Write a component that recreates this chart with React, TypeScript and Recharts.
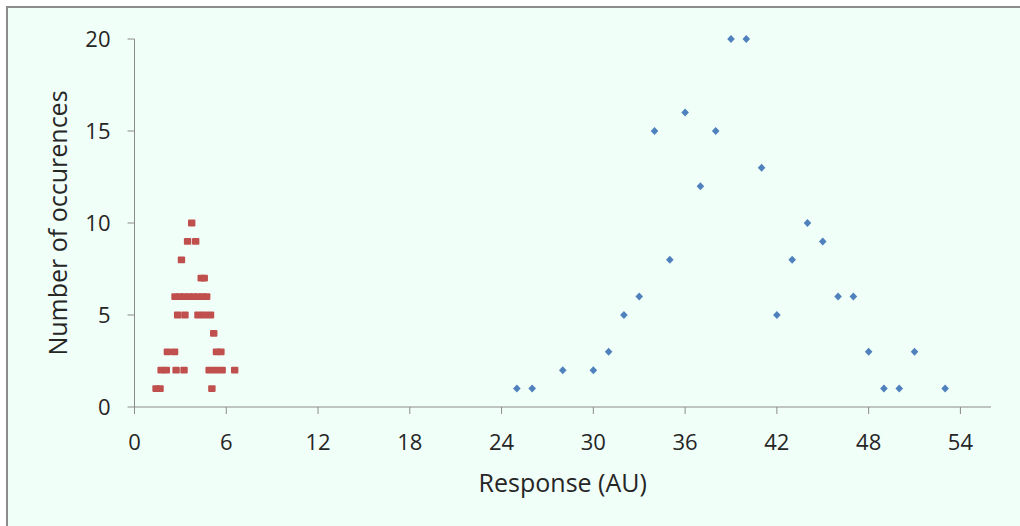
import React from 'react';
import { ScatterChart, Scatter, XAxis, YAxis } from 'recharts';

const xTicks = [0, 6, 12, 18, 24, 30, 36, 42, 48, 54];
const yTicks = [0, 5, 10, 15, 20];

const blueResponse = [25, 26, 28, 30, 31, 32, 33, 34, 35, 36, 37, 38, 39, 40, 41, 42, 43, 44, 45, 46, 47, 48, 49, 50, 51, 53];
const blueCount = [1, 1, 2, 2, 3, 5, 6, 15, 8, 16, 12, 15, 20, 20, 13, 5, 8, 10, 9, 6, 6, 3, 1, 1, 3, 1];

const redResponse = [
  3.74,
  3.47, 4.0,
  3.07,
  4.36, 4.56,
  2.65, 2.95, 3.25, 3.55, 3.85, 4.15, 4.45, 4.72,
  2.82, 3.3, 4.15, 4.55, 4.97,
  5.18,
  2.15, 2.62, 5.36, 5.65,
  1.74, 2.08, 2.72, 3.24, 4.88, 5.3, 5.73, 6.55,
  1.41, 1.67, 5.06,
];
const redCount = [
  10,
  9, 9,
  8,
  7, 7,
  6, 6, 6, 6, 6, 6, 6, 6,
  5, 5, 5, 5, 5,
  4,
  3, 3, 3, 3,
  2, 2, 2, 2, 2, 2, 2, 2,
  1, 1, 1,
];

const blueData = blueResponse.map((x, i) => ({ x, y: blueCount[i] }));
const redData = redResponse.map((x, i) => ({ x, y: redCount[i] }));

const AXIS = '#8a8a8a';
const TEXT = '#262626';
const FONT = '"Open Sans", sans-serif';

const Diamond = (props: any) => {
  const { cx, cy } = props;
  if (cx == null || cy == null) return null;
  return (
    <polygon
      points={`${cx},${cy - 4} ${cx + 3.8},${cy} ${cx},${cy + 4} ${cx - 3.8},${cy}`}
      fill="#4F81BD"
    />
  );
};

const Square = (props: any) => {
  const { cx, cy } = props;
  if (cx == null || cy == null) return null;
  return <rect x={cx - 3.7} y={cy - 3.4} width={7.4} height={6.8} rx={1} fill="#C0504D" />;
};

export default function App() {
  return (
    <div style={{ position: 'absolute', left: 0, top: 0, width: 1020, height: 526, background: '#ffffff', overflow: 'hidden' }}>
      <div
        style={{
          position: 'absolute',
          left: 6,
          top: 6,
          width: 1014,
          height: 520,
          background: '#F1FFF9',
          borderLeft: '2px solid #8c8c8c',
          borderTop: '2px solid #8c8c8c',
          boxSizing: 'border-box',
        }}
      />
      <div style={{ position: 'absolute', left: 0, top: 0 }}>
        <ScatterChart width={1020} height={526} margin={{ top: 39, right: 29, bottom: 29, left: 0 }}>
          <XAxis
            type="number"
            dataKey="x"
            domain={[0, 56]}
            ticks={xTicks}
            interval={0}
            height={90}
            stroke={AXIS}
            tickSize={7}
            tickMargin={20}
            tick={{ fill: TEXT, fontSize: 22, fontFamily: FONT }}
            label={{ value: 'Response (AU)', position: 'insideBottom', offset: 5, fill: TEXT, fontSize: 25, fontFamily: FONT }}
          />
          <YAxis
            type="number"
            dataKey="y"
            domain={[0, 20]}
            ticks={yTicks}
            interval={0}
            width={134.5}
            stroke={AXIS}
            tickSize={7}
            tickMargin={17}
            tick={{ fill: TEXT, fontSize: 22, fontFamily: FONT }}
            label={{ value: 'Number of occurences', angle: -90, position: 'center', dx: -9, fill: TEXT, fontSize: 25, fontFamily: FONT }}
          />
          <Scatter data={redData} shape={<Square />} isAnimationActive={false} />
          <Scatter data={blueData} shape={<Diamond />} isAnimationActive={false} />
        </ScatterChart>
      </div>
    </div>
  );
}
